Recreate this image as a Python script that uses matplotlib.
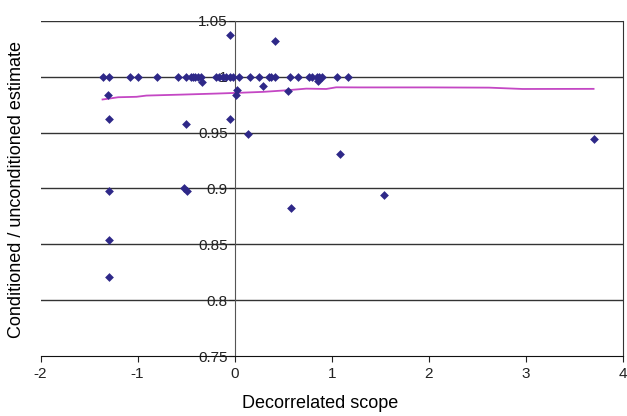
import matplotlib.pyplot as plt

plt.rcParams['font.family'] = ['Liberation Sans', 'DejaVu Sans']

# scatter data (decorrelated scope, conditioned / unconditioned)
scope = [-1.355, -1.293, -1.073, -0.993, -0.795, -0.583, -0.497, -0.453, -0.429,
         -0.404, -0.377, -0.343, -0.188, -0.165, -0.120, -0.086, -0.044, -0.017,
         0.041, 0.157, 0.250, 0.353, 0.377, 0.411, 0.566, 0.651, 0.765, 0.800,
         0.847, 0.868, 0.899, 1.057, 1.166,
         -0.044, 0.411, -0.333, -1.300, 0.024, 0.017, 0.290, 0.552, 0.857, 0.870,
         -1.293, -0.497, -0.044, 0.137, -1.290, -0.520, -0.490, -1.290, -1.290,
         0.576, 1.090, 1.543, 3.697]
ratio = [1.0] * 33 + [
         1.0373, 1.0317, 0.9953, 0.984, 0.9885, 0.984, 0.9917, 0.9876, 0.9964, 0.998,
         0.9618, 0.958, 0.9618, 0.9485, 0.8973, 0.9008, 0.8979, 0.854, 0.8212,
         0.8828, 0.931, 0.8937, 0.9438]

# moving-average trend line
trend_x = [-1.361, -1.286, -1.20, -1.011, -0.909, -0.532, -0.188, 0.017, 0.29,
           0.532, 0.737, 0.943, 1.046, 1.286, 2.0, 2.62, 2.966, 3.697]
trend_y = [0.9796, 0.9805, 0.9816, 0.982, 0.9831, 0.984, 0.9849, 0.9855, 0.9864,
           0.9878, 0.9893, 0.989, 0.9905, 0.9904, 0.9904, 0.9902, 0.989, 0.9891]

xticks = [-2, -1, 0, 1, 2, 3, 4]
yticks = [0.75, 0.8, 0.85, 0.9, 0.95, 1.0, 1.05]
ytick_labels = ["0.75", "0.8", "0.85", "0.9", "0.95", "1", "1.05"]

fig = plt.figure(figsize=(6.27, 4.16), dpi=100)
ax = fig.add_axes([0.0646, 0.144, 0.929, 0.806])

for y in yticks[1:]:
    ax.axhline(y, color="#333333", lw=1.0, zorder=1)

ax.plot(trend_x, trend_y, color="#c447c4", lw=1.3, zorder=2)
ax.scatter(scope, ratio, marker="D", s=20, color="#2e2888", zorder=3, linewidths=0)

ax.set_xlim(-2, 4)
ax.set_ylim(0.75, 1.05)
ax.set_xticks(xticks)
ax.set_xticklabels([str(x) for x in xticks])
ax.set_yticks(yticks)
ax.set_yticklabels(ytick_labels)

ax.spines["left"].set_position(("data", 0))
ax.spines["left"].set_color("#555555")
ax.spines["top"].set_visible(False)
ax.spines["right"].set_color("#333333")
ax.spines["bottom"].set_color("#111111")
ax.tick_params(axis="both", labelsize=11, direction="out", length=4, colors="#222222")
ax.tick_params(axis="y", pad=1)

fig.text(0.51, 0.03, "Decorrelated scope", ha="center", va="center", fontsize=13)
fig.text(0.026, 0.545, "Conditioned / unconditioned estimate", ha="center", va="center",
         rotation=90, fontsize=13)

fig.savefig("out.png", dpi=100)
